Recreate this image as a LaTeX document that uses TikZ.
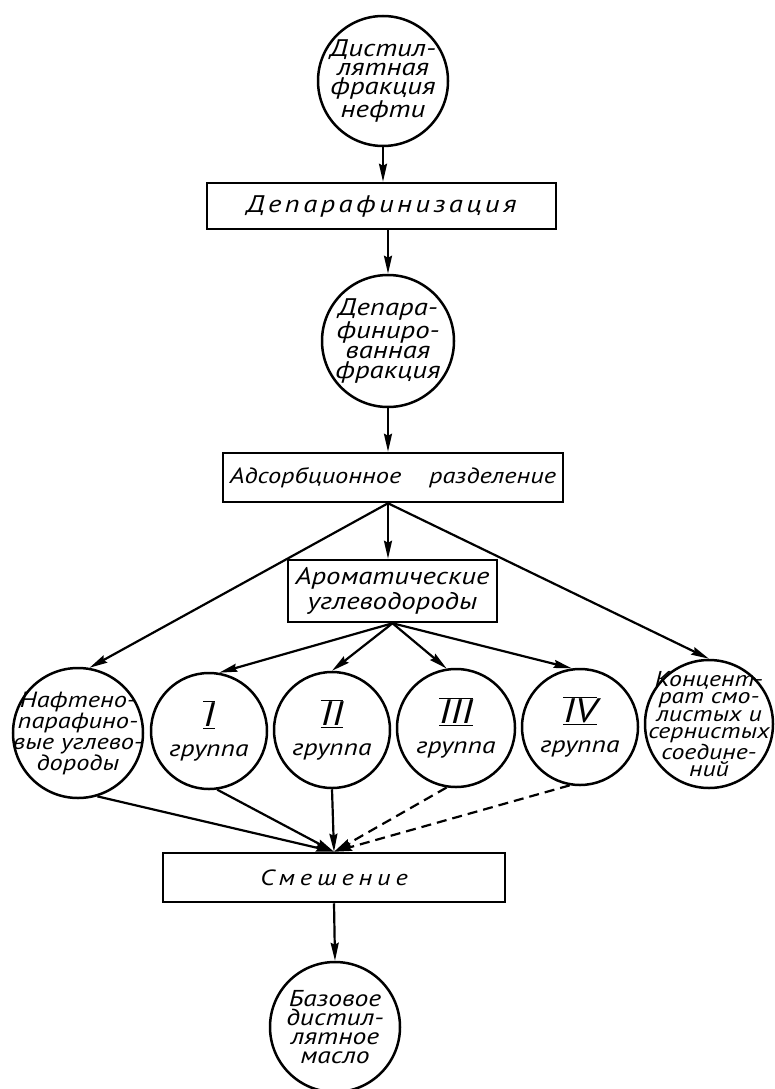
\documentclass[tikz,border=0pt]{standalone}
\usepackage{fontspec}
\setmainfont{PT Sans}[FakeStretch=1.2]
\usetikzlibrary{arrows.meta}
\newcommand{\rnum}[1]{\ensuremath{\overline{\underline{\hbox{\fontsize{34}{34}\selectfont #1}}}}}
\tikzset{
  circ/.style={draw, circle, line width=2.5pt, inner sep=-30pt, align=center,
    font=\itshape\fontsize{24}{19}\selectfont},
  grp/.style={circ, font=\itshape\fontsize{23}{30}\selectfont},
  boxn/.style={draw, rectangle, line width=2.5pt, inner sep=0pt, align=center,
    font=\itshape\fontsize{22}{25}\selectfont},
  arr/.style={line width=2.2pt, -{Stealth[length=18pt,width=8pt,inset=2pt]}},
  dasharr/.style={arr, dash pattern=on 10pt off 6pt},
}
\begin{document}
\begin{tikzpicture}[x=1pt,y=-1pt]
\useasboundingbox (0,0) rectangle (774,1089);
% nodes
\node[circ, minimum size=130pt] (c1) at (383,81) {Дистил-\\лятная\\фракция\\нефти};
\node[boxn, minimum width=349pt, minimum height=46pt, font=\itshape\fontsize{24}{25}\selectfont]
  (b1) at (381.5,206) {\addfontfeatures{LetterSpace=14}Депарафинизация};
\node[circ, minimum size=132pt, font=\itshape\fontsize{24}{20}\selectfont] (c2) at (388,341)
  {Депара-\\финиро-\\ванная\\фракция};
\node[boxn, minimum width=340pt, minimum height=49pt] (b2) at (393,477.5)
  {Адсорбционное\hspace{28pt}разделение};
\node[boxn, minimum width=209pt, minimum height=62pt, font=\itshape\fontsize{24}{25}\selectfont]
  (b3) at (392.5,591) {Ароматические\\углеводороды};
\node[circ, minimum size=130pt, font=\itshape\fontsize{22}{21}\selectfont] (cN) at (78,733)
  {Нафтено-\\парафино-\\вые углево-\\дороды};
\node[grp, minimum size=116pt] (g1) at (209,731) {\rnum{I}\\группа};
\node[grp, minimum size=116pt] (g2) at (332,730) {\rnum{II}\\группа};
\node[grp, minimum size=118pt] (g3) at (456,728) {\rnum{III}\\группа};
\node[grp, minimum size=116pt] (g4) at (580,727) {\rnum{IV}\\группа};
\node[circ, minimum size=128pt, font=\itshape\fontsize{21.5}{17.5}\selectfont] (cK) at (709,724)
  {Концент-\\рат смо-\\листых и\\сернистых\\соедине-\\ний};
\node[boxn, minimum width=342pt, minimum height=49pt]
  (b4) at (334,877.5) {\addfontfeatures{LetterSpace=22}Смешение};
\node[circ, minimum size=130pt, font=\itshape\fontsize{23}{19}\selectfont] (c3) at (335,1027)
  {Базовое\\дистил-\\лятное\\масло};
% connectors
\coordinate (s2) at (b2.south -| c2.south);
\coordinate (m) at (b4.north);
\draw[arr] (c1.south) -- (c1.south |- b1.north);
\draw[arr] (b1.south -| c2.north) -- (c2.north);
\draw[arr] (c2.south) -- (c2.south |- b2.north);
\draw[arr] (s2) -- (s2 |- b3.north);
\draw[arr] (s2) -- (cN.80);
\draw[arr] (s2) -- (cK.90);
\draw[arr] (b3.south) -- (g1.80);
\draw[arr] (b3.south) -- (g2.90);
\draw[arr] (b3.south) -- (g3.99);
\draw[arr] (b3.south) -- (g4.98);
\draw[arr] (cN.-73) -- (m);
\draw[arr] (g1.-82) -- (m);
\draw[arr] (g2.south) -- (m);
\draw[dasharr] (g3.-99) -- (m);
\draw[dasharr] (g4.-100) -- (m);
\draw[arr] (b4.south) -- (c3.north);
\end{tikzpicture}
\end{document}
